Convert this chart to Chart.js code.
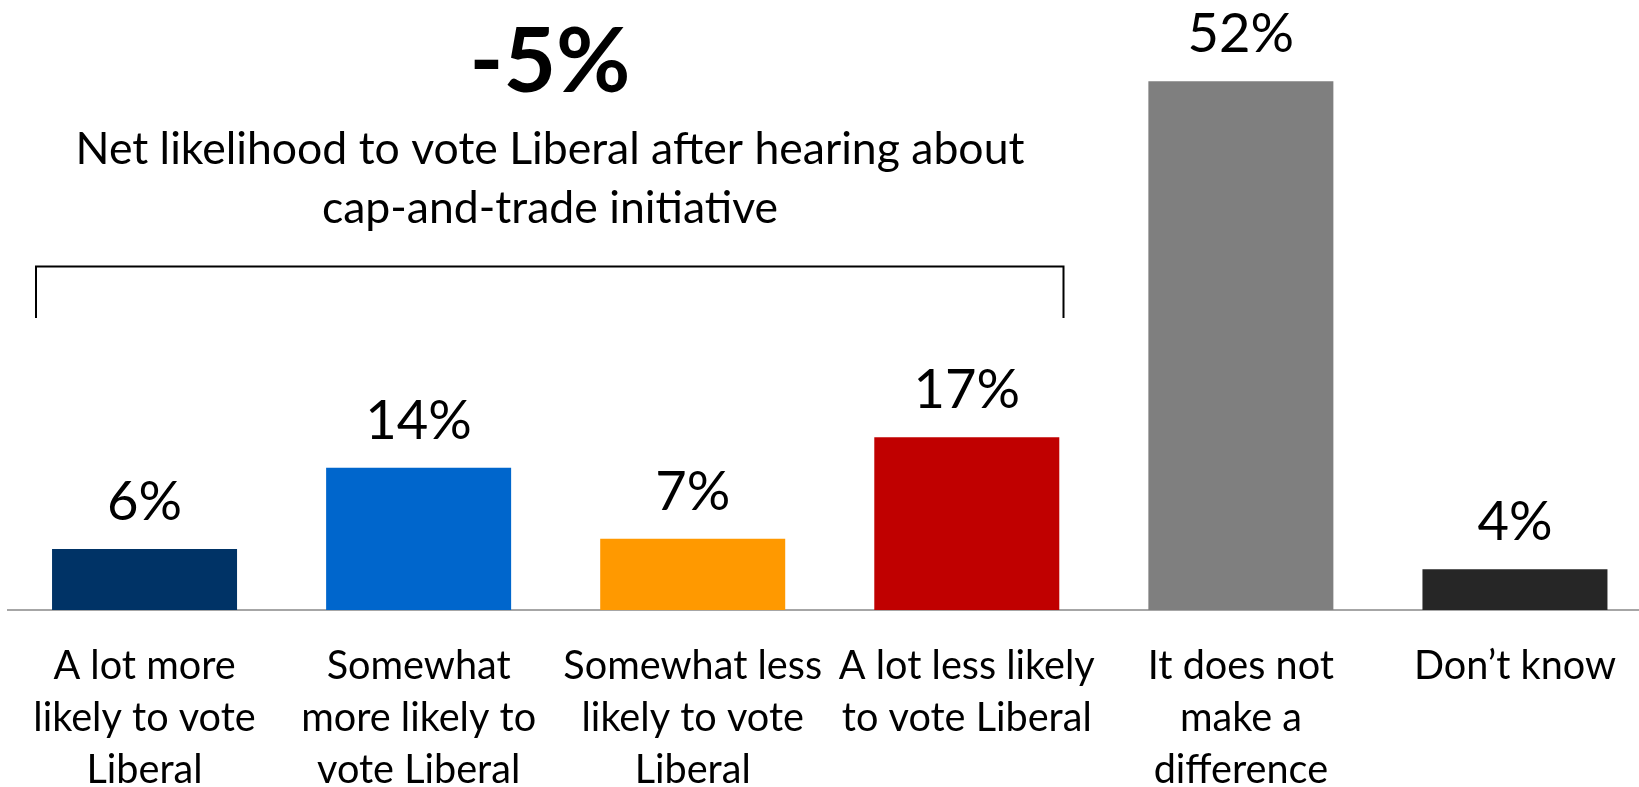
<!DOCTYPE html>
<html><head><meta charset="utf-8">
<script src="https://cdn.jsdelivr.net/npm/chart.js@4.4.0/dist/chart.umd.min.js"></script>
<style>
html,body{margin:0;padding:0;background:#fff;overflow:hidden;}
#wrap{position:absolute;left:0;top:0;width:1653px;height:826px;}
</style></head><body>
<div id="wrap"><canvas id="c"></canvas></div>
<script>
const categories = [
  ["A lot more","likely to vote","Liberal"],
  ["Somewhat","more likely to","vote Liberal"],
  ["Somewhat less","likely to vote","Liberal"],
  ["A lot less likely","to vote Liberal"],
  ["It does not","make a","difference"],
  ["Don\u2019t know"]
];
const values = [6,14,7,17,52,4];
const barColors = ["#003366","#0066CC","#FF9900","#C00000","#7F7F7F","#262626"];
const headline = "-5%";
const subtitleLines = ["Net likelihood to vote Liberal after hearing about","cap-and-trade initiative"];

const FAMILY = "Lato, 'Open Sans', sans-serif";
const mctx = document.createElement('canvas').getContext('2d');
function fit(text, weight, target){
  mctx.font = weight + ' 100px ' + FAMILY;
  return 100 * target / mctx.measureText(text).width;
}
const tickSize = fit("Somewhat","normal",184);
const subSize = fit(subtitleLines[0],"normal",949);
const valSize = fit("52%","normal",106.6);
const headSize = fit(headline,"bold",161);

const overlay = {
  id: 'overlay',
  afterDatasetsDraw(chart){
    const ctx = chart.ctx;
    const meta = chart.getDatasetMeta(0);
    ctx.save();
    ctx.fillStyle = '#000';
    ctx.textAlign = 'center';
    ctx.textBaseline = 'alphabetic';
    ctx.font = valSize + 'px ' + FAMILY;
    meta.data.forEach((bar, i) => {
      ctx.fillText(values[i] + '%', bar.x, bar.y - 29);
    });
    ctx.font = 'bold ' + headSize + 'px ' + FAMILY;
    ctx.fillText(headline, 550, 92);
    ctx.font = subSize + 'px ' + FAMILY;
    ctx.fillText(subtitleLines[0], 550, 164);
    ctx.fillText(subtitleLines[1], 550, 222.6);
    ctx.strokeStyle = '#000';
    ctx.lineWidth = 2;
    ctx.beginPath();
    ctx.moveTo(36, 318);
    ctx.lineTo(36, 266.5);
    ctx.lineTo(1063.5, 266.5);
    ctx.lineTo(1063.5, 318);
    ctx.stroke();
    ctx.restore();
  }
};

new Chart(document.getElementById('c'), {
  type: 'bar',
  data: {
    labels: categories,
    datasets: [{
      data: values,
      backgroundColor: barColors,
      borderWidth: 0,
      barPercentage: 0.675,
      categoryPercentage: 1
    }]
  },
  options: {
    responsive: true,
    maintainAspectRatio: false,
    animation: false,
    layout: { padding: { left: 7.5, right: 1, top: 0, bottom: 0 } },
    plugins: { legend: { display: false }, tooltip: { enabled: false } },
    scales: {
      x: {
        offset: true,
        grid: { display: false, drawTicks: false },
        border: { display: true, color: '#A6A6A6', width: 2 },
        ticks: {
          autoSkip: false, maxRotation: 0, minRotation: 0,
          padding: 30, color: '#000',
          font: { family: FAMILY, size: tickSize, lineHeight: '52px' }
        }
      },
      y: { display: false, min: 0, max: 60 }
    }
  },
  plugins: [overlay]
});
</script>
</body></html>
